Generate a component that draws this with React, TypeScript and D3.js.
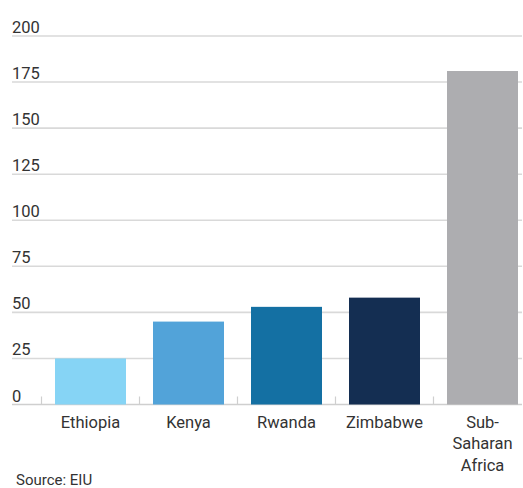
import React from "react";
import * as d3 from "d3";

const categories = ["Ethiopia", "Kenya", "Rwanda", "Zimbabwe", "Sub-Saharan Africa"];
const categoryLines = [["Ethiopia"], ["Kenya"], ["Rwanda"], ["Zimbabwe"], ["Sub-", "Saharan", "Africa"]];
const values = [25, 45, 53, 58, 181];
const colors = ["#86d4f5", "#52a3d9", "#1470a3", "#142e52", "#adadb0"];
const yTicks = [0, 25, 50, 75, 100, 125, 150, 175, 200];

const W = 523;
const H = 488;
const FONT = "'Roboto', sans-serif";

export default function App() {
  const y = d3.scaleLinear().domain([0, 200]).range([404.5, 36]);
  const x = d3
    .scaleBand<string>()
    .domain(categories)
    .range([41.5, 41.5 + 98 * 5])
    .paddingInner(0.2755)
    .paddingOuter(0.1378);
  const step = x.step();
  const start = x.range()[0];
  const base = y(0);

  return (
    <svg width={W} height={H} style={{ position: "absolute", left: 0, top: 0, background: "#fff" }}>
      {yTicks.map((t) => (
        <g key={t}>
          <line x1={12} x2={522} y1={y(t)} y2={y(t)} stroke={t === 0 ? "#cfcfcf" : "#d9d9d9"} strokeWidth={1.6} />
          <text x={12} y={y(t) - 3} fontFamily={FONT} fontSize={16.5} fill="#333">
            {t}
          </text>
        </g>
      ))}
      {categories.map((c, i) => (
        <line
          key={"tk" + c}
          x1={start + i * step}
          x2={start + i * step}
          y1={base - 8}
          y2={base}
          stroke="#cfcfcf"
          strokeWidth={1.2}
        />
      ))}
      {categories.map((c, i) => (
        <rect
          key={c}
          x={x(c)}
          width={x.bandwidth()}
          y={y(values[i])}
          height={base - y(values[i])}
          fill={colors[i]}
        />
      ))}
      {categories.map((c, i) => (
        <text
          key={"l" + c}
          x={(x(c) as number) + x.bandwidth() / 2}
          textAnchor="middle"
          fontFamily={FONT}
          fontSize={16.5}
          fill="#333"
        >
          {categoryLines[i].map((ln, j) => (
            <tspan key={j} x={(x(c) as number) + x.bandwidth() / 2} y={427.5 + j * 21.5}>
              {ln}
            </tspan>
          ))}
        </text>
      ))}
      <text x={16} y={485} fontFamily={FONT} fontSize={15} fill="#333">
        Source: EIU
      </text>
    </svg>
  );
}
